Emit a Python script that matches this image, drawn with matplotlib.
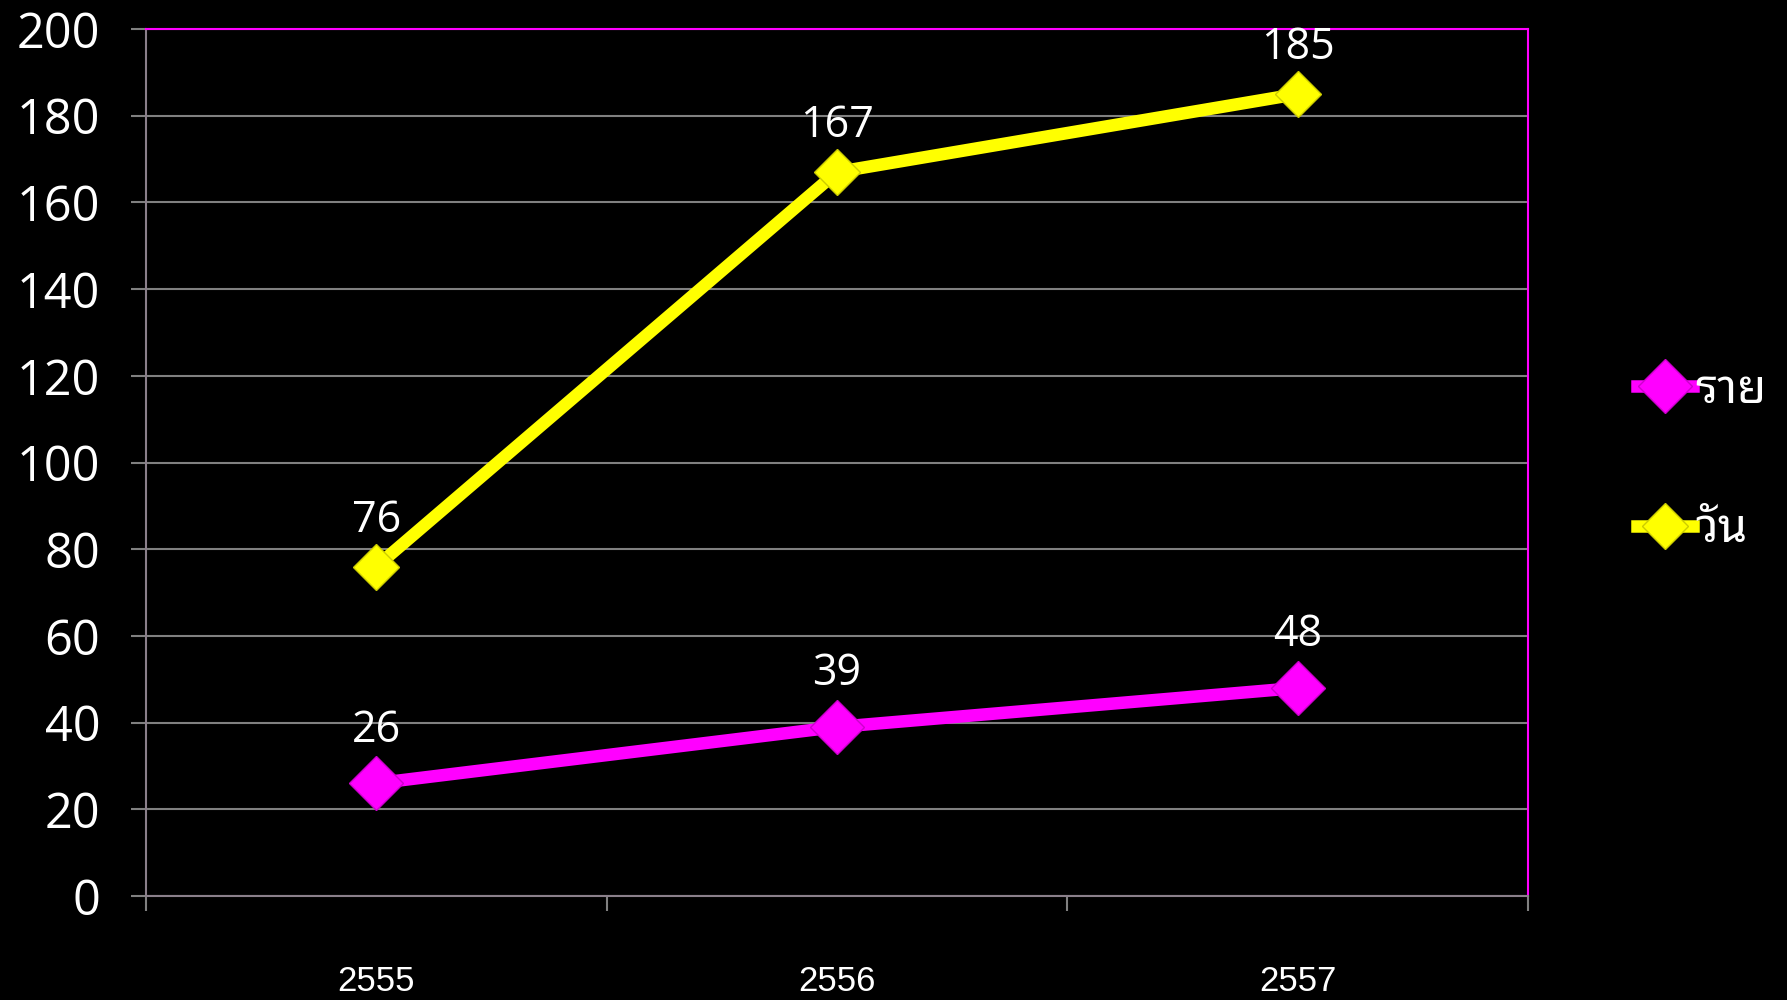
import matplotlib
matplotlib.use('Agg')
from matplotlib import pyplot as plt
from matplotlib import font_manager
from matplotlib.ft2font import FT2Font
import numpy as np

years = ['2555', '2556', '2557']
rai = [26, 39, 48]       # ราย
wan = [76, 167, 185]     # วัน
series_names = ['ราย', 'วัน']
yticks = range(0, 201, 20)


def thai_font():
    # look for any installed font that has Thai glyphs (looped style first)
    for name in ['Noto Sans Thai Looped', 'Loma', 'Garuda', 'Norasi', 'Noto Sans Thai',
                 'Tlwg Typo', 'FreeSans', 'Noto Sans', 'DejaVu Sans']:
        try:
            path = font_manager.findfont(name, fallback_to_default=False)
            f = FT2Font(path)
            if f.get_char_index(ord('ร')) and f.get_char_index(ord('ั')):
                return name
        except Exception:
            pass
    for fe in font_manager.fontManager.ttflist:
        try:
            f = FT2Font(fe.fname)
            if f.get_char_index(ord('ร')) and f.get_char_index(ord('ั')):
                return fe.name
        except Exception:
            pass
    return 'DejaVu Sans'


tfont = thai_font()

fig = plt.figure(figsize=(17.87, 10), dpi=100, facecolor='black')
ax = fig.add_axes([146 / 1787, 1 - 896 / 1000, (1528 - 146) / 1787, (896 - 29) / 1000])
ax.set_facecolor('black')

x = np.arange(len(years)) + 0.5
ax.plot(x, rai, color='#ff00ff', lw=9, marker='D', ms=28, mfc='#ff00ff',
        mec='#cc00cc', label=series_names[0], zorder=4)
ax.plot(x, wan, color='#ffff00', lw=9, marker='D', ms=23, mfc='#ffff00',
        mec='#cccc00', label=series_names[1], zorder=4)

for xi, v in zip(x, rai):
    ax.annotate(str(v), (xi, v), xytext=(0, 22), textcoords='offset points',
                ha='center', va='bottom', color='white', fontsize=31, family='Open Sans')
for xi, v in zip(x, wan):
    ax.annotate(str(v), (xi, v), xytext=(0, 17), textcoords='offset points',
                ha='center', va='bottom', color='white', fontsize=31, family='Open Sans')

ax.set_xlim(0, 3)
ax.set_ylim(0, 200)
ax.set_yticks(list(yticks))
ax.set_yticklabels([str(t) for t in yticks], color='white', fontsize=35, family='Open Sans')
ax.grid(axis='y', color='#808080', lw=1.5)
ax.set_axisbelow(True)

ax.set_xticks([0, 1, 2, 3])
ax.set_xticklabels([])
ax.set_xticks(x, minor=True)
ax.set_xticklabels(years, minor=True, color='white', fontsize=25, family='Liberation Sans')
ax.tick_params(axis='x', which='major', length=11, width=1.5, color='#808080', direction='out')
ax.tick_params(axis='x', which='minor', length=0, pad=50)
ax.tick_params(axis='y', length=11, width=1.5, color='#808080', pad=22)

ax.spines['left'].set_color('#8a7f8a')
ax.spines['bottom'].set_color('#8a7f8a')
ax.spines['left'].set_linewidth(1.5)
ax.spines['bottom'].set_linewidth(1.5)
ax.spines['top'].set_color('#ff00ff')
ax.spines['right'].set_color('#ff00ff')
ax.spines['top'].set_linewidth(1.5)
ax.spines['right'].set_linewidth(1.5)

leg = ax.legend(loc='center left', bbox_to_anchor=(1594 / 1787, 0.54), bbox_transform=fig.transFigure,
                frameon=False, handlelength=1.2, handletextpad=0.05, labelspacing=1.95,
                prop={'family': tfont, 'size': 34}, markerscale=1.0)
for t in leg.get_texts():
    t.set_color('white')

fig.savefig('out.png', dpi=100, facecolor='black')
